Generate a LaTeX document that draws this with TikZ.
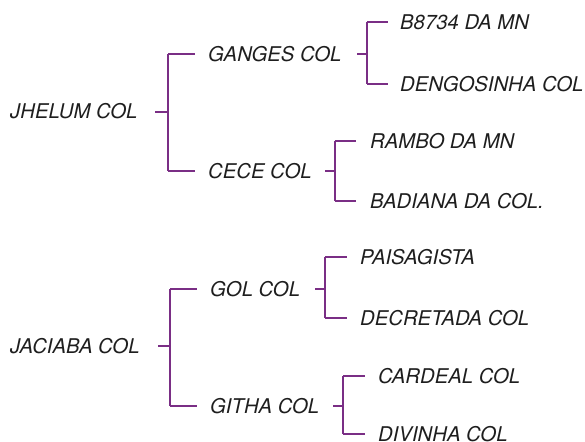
\documentclass[tikz,border=0pt]{standalone}
\usepackage{fontspec}
\setmainfont{TeX Gyre Heros}
\usepackage{xcolor}
\definecolor{tree_purple}{HTML}{7a2e85}
\definecolor{tree_text}{HTML}{1e1e1e}

\tikzset{
  taxon/.style={anchor=west, inner sep=0pt, text height=14.6pt, text depth=0pt,
    font=\fontsize{20.3}{23}\selectfont\itshape, text=tree_text},
  arm/.style={tree_purple, line width=1.2pt},
  bar/.style={tree_purple, line width=2.2pt},
  stub/.style={tree_purple, line width=2.6pt}
}

\begin{document}
\begin{tikzpicture}[x=1pt, y=-1pt]
    \useasboundingbox (0,0) rectangle (585,441);

    % First family
    \node[taxon] (jhelum) at (10,111) {JHELUM COL};
    \node[taxon] (ganges) at (208,54) {GANGES COL};
    \node[taxon] (cece) at (208,171) {CECE COL};
    \node[taxon] (b8734) at (400,22) {B8734 DA MN};
    \node[taxon] (dengosinha) at (400,84) {DENGOSINHA COL};
    \node[taxon] (rambo) at (370,141) {RAMBO DA MN};
    \node[taxon] (badiana) at (370,201) {BADIANA DA COL.};

    % Second family
    \node[taxon] (jaciaba) at (10,346) {JACIABA COL};
    \node[taxon] (gol) at (210,289) {GOL COL};
    \node[taxon] (githa) at (210,406) {GITHA COL};
    \node[taxon] (paisagista) at (360,257) {PAISAGISTA};
    \node[taxon] (decretada) at (360,318) {DECRETADA COL};
    \node[taxon] (cardeal) at (378,376) {CARDEAL COL};
    \node[taxon] (divinha) at (378,434) {DIVINHA COL};

    % Bracket joints
    \coordinate (jhelumbar) at (168,112);
    \coordinate (gangesbar) at (367,54);
    \coordinate (cecebar) at (335,171);
    \coordinate (jaciababar) at (170,346);
    \coordinate (golbar) at (325,289);
    \coordinate (githabar) at (343,406);

    % JHELUM COL -> GANGES COL, CECE COL
    \draw[stub] ([xshift=-13pt]jhelumbar) -- (jhelumbar);
    \draw[bar] (jhelumbar |- ganges.west) -- (jhelumbar |- cece.west);
    \draw[arm] (jhelumbar |- ganges.west) -- ([xshift=-13pt]ganges.west);
    \draw[arm] (jhelumbar |- cece.west) -- ([xshift=-13pt]cece.west);

    % GANGES COL -> B8734 DA MN, DENGOSINHA COL
    \draw[stub] ([xshift=-10pt]gangesbar) -- (gangesbar);
    \draw[bar] (gangesbar |- b8734.west) -- (gangesbar |- dengosinha.west);
    \draw[arm] (gangesbar |- b8734.west) -- ([xshift=-12pt]b8734.west);
    \draw[arm] (gangesbar |- dengosinha.west) -- ([xshift=-12pt]dengosinha.west);

    % CECE COL -> RAMBO DA MN, BADIANA DA COL.
    \draw[stub] ([xshift=-10pt]cecebar) -- (cecebar);
    \draw[bar] (cecebar |- rambo.west) -- (cecebar |- badiana.west);
    \draw[arm] (cecebar |- rambo.west) -- ([xshift=-14pt]rambo.west);
    \draw[arm] (cecebar |- badiana.west) -- ([xshift=-14pt]badiana.west);

    % JACIABA COL -> GOL COL, GITHA COL
    \draw[stub] ([xshift=-12pt]jaciababar) -- (jaciababar);
    \draw[bar] (jaciababar |- gol.west) -- (jaciababar |- githa.west);
    \draw[arm] (jaciababar |- gol.west) -- ([xshift=-13pt]gol.west);
    \draw[arm] (jaciababar |- githa.west) -- ([xshift=-13pt]githa.west);

    % GOL COL -> PAISAGISTA, DECRETADA COL
    \draw[stub] ([xshift=-10pt]golbar) -- (golbar);
    \draw[bar] (golbar |- paisagista.west) -- (golbar |- decretada.west);
    \draw[arm] (golbar |- paisagista.west) -- ([xshift=-13pt]paisagista.west);
    \draw[arm] (golbar |- decretada.west) -- ([xshift=-13pt]decretada.west);

    % GITHA COL -> CARDEAL COL, DIVINHA COL
    \draw[stub] ([xshift=-10pt]githabar) -- (githabar);
    \draw[bar] (githabar |- cardeal.west) -- (githabar |- divinha.west);
    \draw[arm] (githabar |- cardeal.west) -- ([xshift=-13pt]cardeal.west);
    \draw[arm] (githabar |- divinha.west) -- ([xshift=-13pt]divinha.west);
  \end{tikzpicture}
\end{document}
